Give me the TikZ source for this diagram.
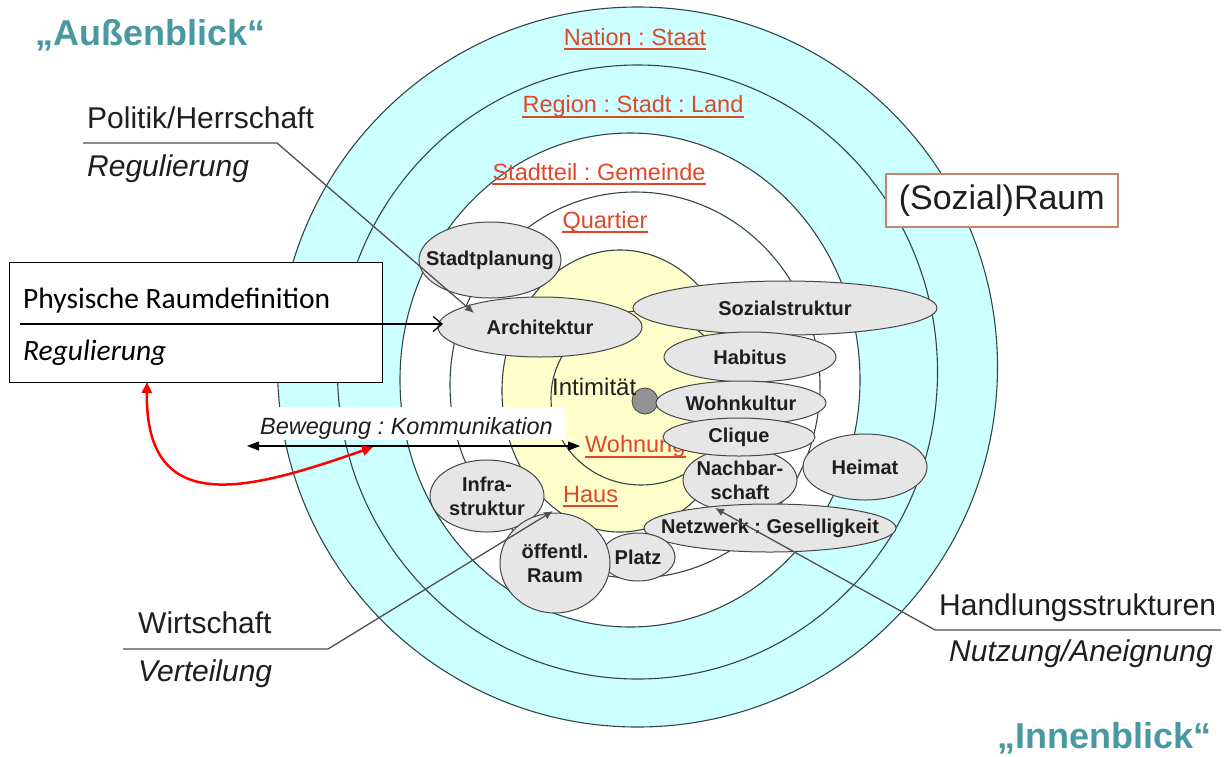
\documentclass[tikz,border=0pt]{standalone}
\usepackage{fontspec}
\setmainfont{Liberation Sans}
\newfontfamily\calfont{Carlito}
\usetikzlibrary{arrows.meta,shapes.geometric}
\definecolor{ringblue}{RGB}{204,255,255}
\definecolor{ringline}{RGB}{50,70,70}
\definecolor{yell}{RGB}{255,255,204}
\definecolor{ellfill}{RGB}{230,230,230}
\definecolor{ellline}{RGB}{70,70,70}
\definecolor{redlab}{RGB}{222,72,40}
\definecolor{titleteal}{RGB}{72,153,160}
\definecolor{boxborder}{RGB}{200,130,110}
\definecolor{greyline}{RGB}{80,80,80}
\definecolor{txt}{RGB}{30,30,30}
\frenchspacing
\newcommand{\myell}[6]{%
  \node[ell, ellipse, minimum width=#4pt, minimum height=#5pt, inner sep=0pt] (#1) at (#2,#3) {};
  \node[elltext] (#1-t) at (#2,#3) {#6};}
\begin{document}
\begin{tikzpicture}[x=1pt,y=-1pt,
  ring/.style={draw=ringline, line width=1.1pt},
  ell/.style={fill=ellfill, draw=ellline, line width=1pt},
  elltext/.style={font=\fontsize{20}{24}\selectfont\bfseries, text=txt, align=center, inner sep=0pt},
  redlabel/.style={font=\fontsize{23.5}{27}\selectfont, text=redlab, inner sep=0pt, anchor=base},
  redlabelw/.style={font=\fontsize{23.5}{27}\selectfont, text=redlab, inner sep=0pt, anchor=base west},
  uline/.style={draw=redlab, line width=2pt},
  bigtext/.style={font=\fontsize{30}{34}\selectfont, text=txt, inner sep=0pt, anchor=base west},
  bigital/.style={font=\fontsize{30}{34}\selectfont\itshape, text=txt, inner sep=0pt, anchor=base west},
  caltext/.style={font=\calfont\fontsize{29.5}{34}\selectfont, inner sep=0pt, anchor=base west},
  leader/.style={draw=greyline, line width=1.3pt},
  tipf/.style={-{Latex[length=9pt,width=8pt]}},
  titletext/.style={font=\fontsize{36}{40}\selectfont\bfseries, text=titleteal, inner sep=0pt, anchor=base west}
]
\useasboundingbox (0,0) rectangle (1226,756);
\fill[white] (0,0) rectangle (1226,756);

% rings
\path[ring, fill=ringblue] (637.5,367) ellipse [x radius=360pt, y radius=360pt];
\path[ring] (637.5,372) ellipse [x radius=300pt, y radius=307pt];
\path[ring, fill=white] (630,380) ellipse [x radius=230pt, y radius=247pt];
\path[ring] (635,385) ellipse [x radius=185pt, y radius=193pt];
\path[ring, fill=yell] (620,391) ellipse [x radius=118pt, y radius=141pt];
\path[ring] (641,398) ellipse [x radius=90pt, y radius=87pt];

% intimacy dot
\node[circle, fill=gray!85, draw=ellline, line width=0.8pt, minimum size=26pt, inner sep=0pt] (dot) at (645,401) {};
\node[font=\fontsize{24}{28}\selectfont, text=txt, inner sep=0pt, anchor=base west] (intim) at (552,395) {Intimität};

% red labels
\node[redlabel] (nation) at (635,45) {Nation : Staat};
\draw[uline] ([yshift=-4pt]nation.base west) -- ([yshift=-4pt]nation.base east);
\node[redlabel] (region) at (633,112) {Region : Stadt : Land};
\draw[uline] ([yshift=-5pt]region.base west) -- ([yshift=-5pt]region.base east);
\node[redlabel] (stadtteil) at (599,180) {Stadtteil : Gemeinde};
\draw[uline] ([yshift=-4pt]stadtteil.base west) -- ([yshift=-4pt]stadtteil.base east);
\node[redlabel] (quartier) at (605,228) {Quartier};
\draw[uline] ([yshift=-4pt]quartier.base west) -- ([yshift=-4pt]quartier.base east);
\node[redlabelw] (wohnung) at (585,452) {Wohnung};
\draw[uline] ([yshift=-5pt]wohnung.base west) -- ([yshift=-5pt]wohnung.base east);
\node[redlabelw] (haus) at (563,502) {Haus};
\draw[uline] ([yshift=-4pt]haus.base west) -- ([yshift=-4pt]haus.base east);

% grey ellipses
\myell{stadtpl}{490}{260}{142}{76}{Stadtplanung}
\myell{archi}{540}{327}{204}{60}{Architektur}
\myell{sozial}{785}{308}{304}{54}{Sozialstruktur}
\myell{habitus}{750}{357}{172}{50}{Habitus}
\myell{wohnk}{741}{403}{170}{44}{Wohnkultur}
\myell{nachbar}{740}{480}{114}{64}{Nachbar-\\schaft}
\myell{clique}{739}{437}{152}{38}{Clique}
\myell{heimat}{865}{467}{124}{66}{Heimat}
\myell{netz}{770}{528}{252}{48}{Netzwerk : Geselligkeit}
\myell{infra}{487}{496}{114}{72}{Infra-\\struktur}
\myell{platz}{638}{557}{74}{48}{Platz}
\myell{oeff}{555}{563}{110}{100}{öffentl.\\Raum}

% Physische Raumdefinition box
\node[draw=black, line width=1.3pt, fill=white, minimum width=373pt, minimum height=120pt, inner sep=0pt, anchor=north west] (physbox) at (9,262) {};
\node[caltext] (phys) at (23,308) {Physische Raumdefinition};
\node[caltext, font=\calfont\itshape\fontsize{29.5}{34}\selectfont] (physreg) at (23,360) {Regulierung};
\coordinate (physstart) at (20,324);
\coordinate (architip) at (443,324);
\draw[line width=1.2pt, -{Straight Barb[length=9pt,width=15pt]}] (physstart) -- (architip);

% (Sozial)Raum box
\node[draw=boxborder, line width=1.5pt, fill=white, minimum width=232pt, minimum height=53pt, inner sep=0pt, anchor=north west, font=\fontsize{34}{38}\selectfont, text=txt] (sozraum) at (885,173) {(Sozial)Raum};

% Bewegung : Kommunikation
\fill[white] (253,407) rectangle (565,440);
\node[font=\fontsize{23.5}{27}\selectfont\itshape, text=txt, inner sep=0pt, anchor=base west] (beweg) at (260,434) {Bewegung : Kommunikation};
\coordinate (bewL) at (247,446);
\coordinate (bewR) at (580,446);
\draw[line width=1.2pt, {Triangle[length=12pt,width=9pt]}-{Triangle[length=12pt,width=9pt]}] (bewL) -- (bewR);

% red curved arrow
\coordinate (redA) at (147,382);
\coordinate (redB) at (373,447);
\draw[red, line width=2.5pt, {Triangle[length=11pt,width=10pt]}-{Triangle[length=11pt,width=10pt]}] (redA) .. controls (145,520) and (250,490) .. (redB);

% Politik/Herrschaft
\node[bigtext] (politik) at (87,128) {Politik/Herrschaft};
\node[bigital] (polreg) at (87,176) {Regulierung};
\coordinate (polL) at (83,143);
\coordinate (polK) at (277,143);
\coordinate (poltip) at (474,313);
\draw[leader, tipf] (polL) -- (polK) -- (poltip);

% Wirtschaft
\node[bigtext] (wirt) at (138,633) {Wirtschaft};
\node[bigital] (vert) at (138,681) {Verteilung};
\coordinate (wirL) at (123,649);
\coordinate (wirK) at (328,649);
\coordinate (wirtip) at (553,511);
\draw[leader, tipf] (wirL) -- (wirK) -- (wirtip);

% Handlungsstrukturen
\node[bigtext] (handl) at (939,615) {Handlungsstrukturen};
\node[bigital] (nutz) at (949,661) {Nutzung/Aneignung};
\coordinate (hanR) at (1221,630);
\coordinate (hanK) at (935,630);
\coordinate (hantip) at (715,508);
\draw[leader, tipf] (hanR) -- (hanK) -- (hantip);

% titles
\node[titletext] (aussen) at (35,45) {„Außenblick“};
\node[titletext] (innen) at (997,748) {„Innenblick“};
\end{tikzpicture}
\end{document}
